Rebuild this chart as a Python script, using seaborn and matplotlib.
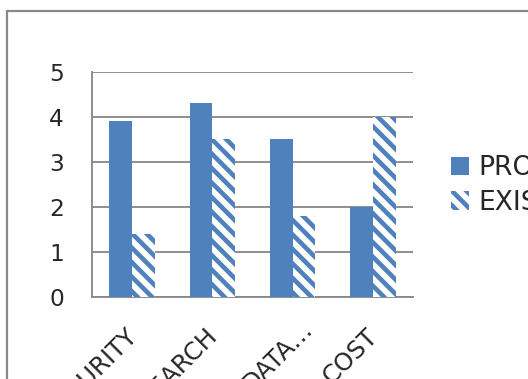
import pandas as pd
import seaborn as sns
import matplotlib.pyplot as plt
from matplotlib.patches import Patch, Rectangle
from matplotlib.transforms import ScaledTranslation

# datos
categorias = ['SECURITY', 'SEARCH', 'DATA\u2026', 'COST']
series = ['PROPOSED', 'EXISTING']
propuesto = [3.9, 4.3, 3.5, 2.0]
existente = [1.4, 3.5, 1.8, 4.0]
yticks = [0, 1, 2, 3, 4, 5]

azul = '#4F81BD'
gris = '#898989'

# dpi elegido para que el rayado tenga el paso del original
dpi = 87


def pt(px):
    # pixeles -> puntos
    return px * 72 / dpi


df = pd.DataFrame({
    'cat': categorias * 2,
    'serie': [series[0]] * 4 + [series[1]] * 4,
    'valor': propuesto + existente,
})

sns.set_style('white')
plt.rcParams['font.family'] = ['DejaVu Sans']
plt.rcParams['hatch.linewidth'] = pt(4.6)

fig = plt.figure(figsize=(528.01 / dpi, 379.01 / dpi), dpi=dpi)
ax = fig.add_axes([92 / 528, 1 - 297 / 379, (413 - 92) / 528, (297 - 72) / 379])

sns.barplot(data=df, x='cat', y='valor', hue='serie', palette=[azul, azul],
            width=0.566, gap=0, saturation=1, legend=False, ax=ax, zorder=3)

# segunda serie con rayas diagonales
for p in ax.containers[1]:
    p.set_facecolor('white')
    p.set_edgecolor(azul)
    p.set_linewidth(0)
    p.set_hatch('\\\\')
for p in ax.containers[0]:
    p.set_linewidth(0)

ax.set_xlim(-0.5, 3.5)
ax.set_ylim(0, 5)
ax.set_yticks(yticks)
ax.set_xlabel('')
ax.set_ylabel('')
ax.grid(axis='y', color=gris, linewidth=pt(1.85), zorder=0)
ax.set_axisbelow(True)
for s in ['top', 'right']:
    ax.spines[s].set_visible(False)
for s in ['left', 'bottom']:
    ax.spines[s].set_color(gris)
    ax.spines[s].set_linewidth(pt(1.85))

ax.tick_params(axis='y', length=pt(9.7), width=pt(1.85), color=gris, pad=pt(18.5), labelsize=pt(23.3))
ax.set_xticks([-0.5, 0.5, 1.5, 2.5, 3.5], minor=True)
ax.tick_params(axis='x', which='minor', length=pt(9.7), width=pt(1.85), color=gris, direction='out')
ax.tick_params(axis='x', which='major', length=0, pad=pt(27), labelsize=pt(24.5))
ax.set_xticks(range(len(categorias)))
ax.set_xticklabels(categorias, rotation=45, ha='right', va='top', rotation_mode='anchor')
# el texto recortado con puntos queda algo mas arriba y a la derecha en el original
corrimiento = [(-7, 0), (-7, 0), (8, 8), (-7, 0)]
for lab, (dx, dy) in zip(ax.get_xticklabels(), corrimiento):
    lab.set_transform(lab.get_transform() + ScaledTranslation(dx / dpi, dy / dpi, fig.dpi_scale_trans))

handles = [Patch(facecolor=azul, linewidth=0),
           Patch(facecolor='white', edgecolor=azul, hatch='\\\\', linewidth=0)]
fig.legend(handles, series, loc='center left', bbox_to_anchor=(451 / 528, 1 - 185.5 / 379),
           frameon=False, fontsize=pt(26.5), handlelength=0.68, handleheight=0.68,
           handletextpad=0.34, labelspacing=0.33, borderpad=0, borderaxespad=0)

# marco del grafico
fig.add_artist(Rectangle((6.5 / 528, -0.5), 2, 0.5 + 1 - 11.5 / 379, transform=fig.transFigure,
                         fill=False, edgecolor=gris, linewidth=pt(2.2)))

fig.savefig('out.png', dpi=dpi)
